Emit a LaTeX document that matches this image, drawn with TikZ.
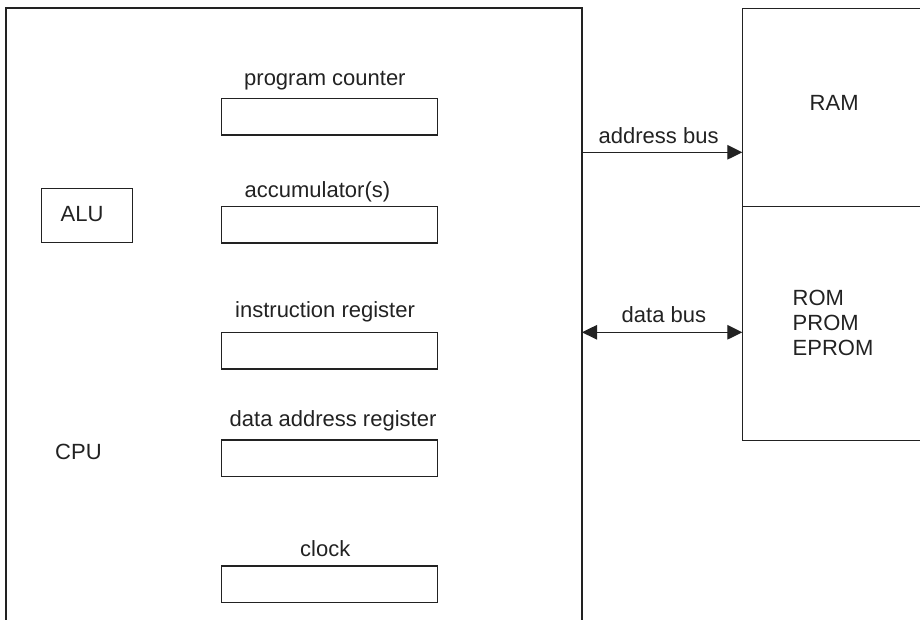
\documentclass[tikz,border=0pt]{standalone}
\usepackage{fontspec}
\setmainfont{Liberation Sans}
\usetikzlibrary{arrows.meta}
\definecolor{ink}{HTML}{222222}
\tikzset{
  lbl/.style={anchor=base west, inner sep=0pt, text=ink, font=\fontsize{22}{25}\selectfont},
  regbox/.style={draw=ink, line width=1.4pt, minimum width=216pt, minimum height=36.7pt, inner sep=0pt},
  frame/.style={draw=ink, line width=1.4pt},
  bus/.style={draw=ink, line width=1.2pt},
  tip/.style={Triangle[length=15pt,width=14.5pt]}
}
\begin{document}
\begin{tikzpicture}[x=1pt,y=-1pt]
\useasboundingbox (0,0) rectangle (920,620);
% CPU outline (open at bottom)
\coordinate (cpuBL) at (6,622);
\coordinate (cpuTL) at (6,8);
\coordinate (cpuTR) at (582,8);
\coordinate (cpuBR) at (582,622);
\draw[frame] (cpuBL) -- (cpuTL) -- (cpuTR) -- (cpuBR);
% Memory outline
\coordinate (memTR) at (922,8.3);
\coordinate (memTL) at (742.3,8.3);
\coordinate (memBL) at (742.3,440.7);
\coordinate (memBR) at (922,440.7);
\coordinate (divL) at (742.3,206.7);
\coordinate (divR) at (922,206.7);
\draw[frame] (memTR) -- (memTL) -- (memBL) -- (memBR);
\draw[frame] (divL) -- (divR);
% registers
\node[regbox] (pc)  at (329.7,116.7) {};
\node[regbox] (acc) at (329.7,224.7) {};
\node[regbox] (ir)  at (329.7,350.7) {};
\node[regbox] (dar) at (329.7,458.3) {};
\node[regbox] (clk) at (329.7,584.3) {};
\node[lbl] (pcl)  at (244,86) {program counter};
\node[lbl] (accl) at (244.5,197.3) {accumulator(s)};
\node[lbl] (irl)  at (235,317.3) {instruction register};
\node[lbl] (darl) at (229.5,426.7) {data address register};
\node[lbl] (clkl) at (300,556.7) {clock};
% ALU
\node[draw=ink, line width=1.4pt, minimum width=90.6pt, minimum height=54.4pt, inner sep=0pt] (alu) at (87,215.5) {};
\node[lbl] (alul) at (60.5,221.7) {ALU};
\node[lbl] (cpul) at (55,459.3) {CPU};
% memory labels
\node[lbl] (ram) at (809.5,110.7) {RAM};
\node[lbl] (rom) at (792.5,305) {ROM};
\node[lbl] (prom) at (792.5,330) {PROM};
\node[lbl] (eprom) at (792.5,355) {EPROM};
% buses
\coordinate (abS) at (582,152.3);
\coordinate (abE) at (742.3,152.3);
\coordinate (dbS) at (582,332.3);
\coordinate (dbE) at (742.3,332.3);
\draw[bus, -{Triangle[length=15pt,width=14.5pt]}] (abS) -- (abE);
\draw[bus, {Triangle[length=15pt,width=14.5pt]}-{Triangle[length=15pt,width=14.5pt]}] (dbS) -- (dbE);
\node[lbl] (abl) at (598.5,143.3) {address bus};
\node[lbl] (dbl) at (621.5,322.7) {data bus};
\end{tikzpicture}
\end{document}
